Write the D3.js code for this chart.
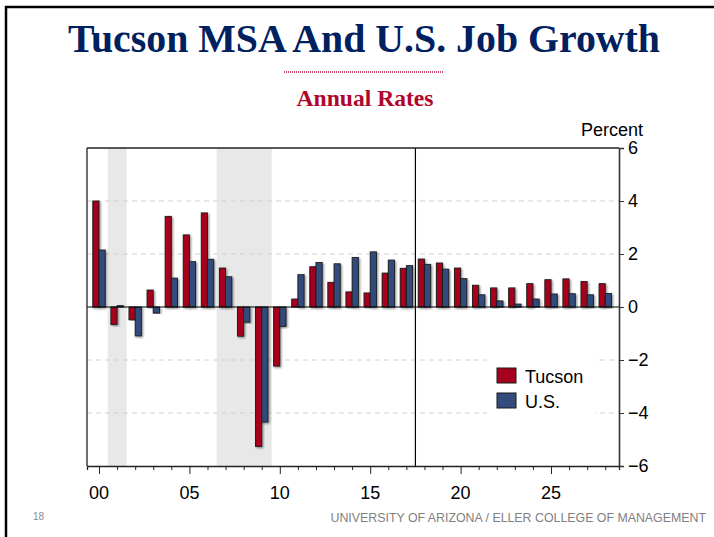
<!DOCTYPE html>
<html>
<head>
<meta charset="utf-8">
<script src="https://cdn.jsdelivr.net/npm/d3@7"></script>
<style>
  html, body { margin: 0; padding: 0; background: #fff; }
  svg { display: block; }
</style>
</head>
<body>
<svg id="chart" width="714" height="537"></svg>
<script>
// ---- data ----
const years = d3.range(2000, 2029);
const tucson = [4.0, -0.66, -0.48, 0.64, 3.42, 2.72, 3.55, 1.47, -1.1, -5.26, -2.23,
                0.30, 1.52, 0.93, 0.57, 0.53, 1.28, 1.46, 1.81, 1.66, 1.47, 0.82, 0.72,
                0.72, 0.88, 1.03, 1.06, 0.96, 0.88];
const us = [2.15, 0.05, -1.09, -0.23, 1.09, 1.71, 1.80, 1.14, -0.57, -4.34, -0.73,
            1.22, 1.68, 1.63, 1.87, 2.08, 1.77, 1.56, 1.61, 1.43, 1.07, 0.46, 0.23,
            0.11, 0.30, 0.49, 0.50, 0.46, 0.51];
const seriesNames = ["Tucson", "U.S."];
const recessions = [[2000.48, 2001.53], [2006.51, 2009.55]];
const forecastStart = 2017.5;
const yTicks = [-6, -4, -2, 0, 2, 4, 6];
const xLabelYears = [2000, 2005, 2010, 2015, 2020, 2025];
const xLabels = ["00", "05", "10", "15", "20", "25"];

const colors = { "Tucson": "#A6001F", "U.S.": "#334B7D" };

// ---- layout ----
const svg = d3.select("#chart");
const L = 87, R = 619, T = 148, B = 466;
const x = d3.scaleLinear().domain([1999.336, 2028.76]).range([L, R]);
const y = d3.scaleLinear().domain([-6, 6]).range([B, T]);
const barW = 6.2;
const font = "'Liberation Sans', Arial, sans-serif";

// slide frame
svg.append("line").attr("x1", 6).attr("x2", 6).attr("y1", 6).attr("y2", 537)
  .attr("stroke", "#000").attr("stroke-width", 2.5);
svg.append("line").attr("x1", 5).attr("x2", 714).attr("y1", 7).attr("y2", 7)
  .attr("stroke", "#000").attr("stroke-width", 2.5);

// titles
svg.append("text").attr("x", 364).attr("y", 52).attr("text-anchor", "middle")
  .attr("font-family", "'Liberation Serif', 'Times New Roman', serif")
  .attr("font-weight", "bold").attr("font-size", 40).attr("fill", "#002060")
  .attr("textLength", 592).attr("lengthAdjust", "spacingAndGlyphs")
  .text("Tucson MSA And U.S. Job Growth");
svg.append("line").attr("x1", 284).attr("x2", 444).attr("y1", 72).attr("y2", 72)
  .attr("stroke", "#C0143C").attr("stroke-width", 1.3).attr("stroke-dasharray", "1,1");
svg.append("text").attr("x", 365).attr("y", 106).attr("text-anchor", "middle")
  .attr("font-family", "'Liberation Serif', 'Times New Roman', serif")
  .attr("font-weight", "bold").attr("font-size", 23).attr("fill", "#B0062C")
  .attr("textLength", 137).attr("lengthAdjust", "spacingAndGlyphs")
  .text("Annual Rates");

// defs: shadow
const defs = svg.append("defs");
const f = defs.append("filter").attr("id", "sh").attr("x", "-50%").attr("y", "-10%")
  .attr("width", "200%").attr("height", "120%");
f.append("feDropShadow").attr("dx", 1.2).attr("dy", 1.2).attr("stdDeviation", 0.9)
  .attr("flood-color", "#000").attr("flood-opacity", 0.45);

// recession shading
svg.append("g").selectAll("rect").data(recessions).join("rect")
  .attr("x", d => x(d[0])).attr("width", d => x(d[1]) - x(d[0]))
  .attr("y", T).attr("height", B - T).attr("fill", "#E8E8E8");

// gridlines
svg.append("g").selectAll("line").data(yTicks.filter(v => v !== 0 && Math.abs(v) !== 6)).join("line")
  .attr("x1", L).attr("x2", R).attr("y1", d => y(d)).attr("y2", d => y(d))
  .attr("stroke", "#D0D0D0").attr("stroke-width", 1).attr("stroke-dasharray", "5,4");

// bars
const barsG = svg.append("g");
years.forEach((yr, i) => {
  [[tucson[i], "Tucson", -barW], [us[i], "U.S.", 0]].forEach(([v, name, off]) => {
    barsG.append("rect")
      .attr("x", x(yr) + off).attr("width", barW)
      .attr("y", y(Math.max(0, v))).attr("height", Math.abs(y(v) - y(0)))
      .attr("fill", colors[name]).attr("stroke", "#1a1a1a").attr("stroke-width", 0.9)
      .attr("filter", "url(#sh)");
  });
});

// zero line
svg.append("line").attr("x1", L).attr("x2", R).attr("y1", y(0)).attr("y2", y(0))
  .attr("stroke", "#000").attr("stroke-width", 1.2);

// forecast divider
svg.append("line").attr("x1", x(forecastStart)).attr("x2", x(forecastStart))
  .attr("y1", T).attr("y2", B).attr("stroke", "#000").attr("stroke-width", 1.2);

// frame
svg.append("line").attr("x1", L).attr("x2", R).attr("y1", T).attr("y2", T)
  .attr("stroke", "#222").attr("stroke-width", 1.3);
svg.append("line").attr("x1", L).attr("x2", L).attr("y1", T).attr("y2", B)
  .attr("stroke", "#222").attr("stroke-width", 1.3);

// bottom axis
const xAxis = svg.append("g").attr("transform", `translate(0,${B})`)
  .call(d3.axisBottom(x).tickValues(years).tickSize(4).tickFormat(""));
xAxis.select(".domain").attr("stroke", "#222").attr("stroke-width", 1.3);
xAxis.selectAll(".tick line").attr("stroke", "#222")
  .attr("y2", d => xLabelYears.includes(d) ? 8 : 4);
svg.append("g").selectAll("text").data(xLabelYears).join("text")
  .attr("x", d => x(d)).attr("y", 499).attr("text-anchor", "middle")
  .attr("font-family", font).attr("font-size", 18).attr("fill", "#000")
  .text((d, i) => xLabels[i]);

// right axis
const yAxis = svg.append("g").attr("transform", `translate(${R},0)`)
  .call(d3.axisRight(y).tickValues(yTicks).tickSize(5).tickPadding(4).tickFormat(d3.format("d")));
yAxis.select(".domain").attr("stroke", "#333").attr("stroke-width", 1.6);
yAxis.selectAll(".tick line").attr("stroke", "#333");
yAxis.selectAll(".tick text").attr("font-family", font).attr("font-size", 18).attr("fill", "#000");
svg.append("text").attr("x", 643).attr("y", 136).attr("text-anchor", "end")
  .attr("font-family", font).attr("font-size", 18).attr("fill", "#000").text("Percent");

// legend
const lg = svg.append("g");
lg.append("rect").attr("x", 487).attr("y", 359).attr("width", 108).attr("height", 56).attr("fill", "#fff");
seriesNames.forEach((n, i) => {
  lg.append("rect").attr("x", 497).attr("y", 368 + i * 25).attr("width", 19).attr("height", 15)
    .attr("fill", colors[n]).attr("stroke", "#1a1a1a").attr("stroke-width", 1);
  lg.append("text").attr("x", 525).attr("y", 383 + i * 25)
    .attr("font-family", font).attr("font-size", 18).attr("fill", "#000").text(n);
});

// footer
svg.append("text").attr("x", 33).attr("y", 520).attr("font-family", font)
  .attr("font-size", 10).attr("fill", "#8a8a8a").text("18");
const foot = svg.append("text").attr("text-anchor", "end")
  .attr("font-family", font).attr("font-size", 12.5).attr("fill", "#7f7f7f")
  .text("UNIVERSITY OF ARIZONA / ELLER COLLEGE OF MANAGEMENT");
const natW = foot.node().getComputedTextLength();
const sx = Math.min(1, 376 / natW);
foot.attr("transform", `translate(706,522) scale(${sx},1)`);
</script>
</body>
</html>
